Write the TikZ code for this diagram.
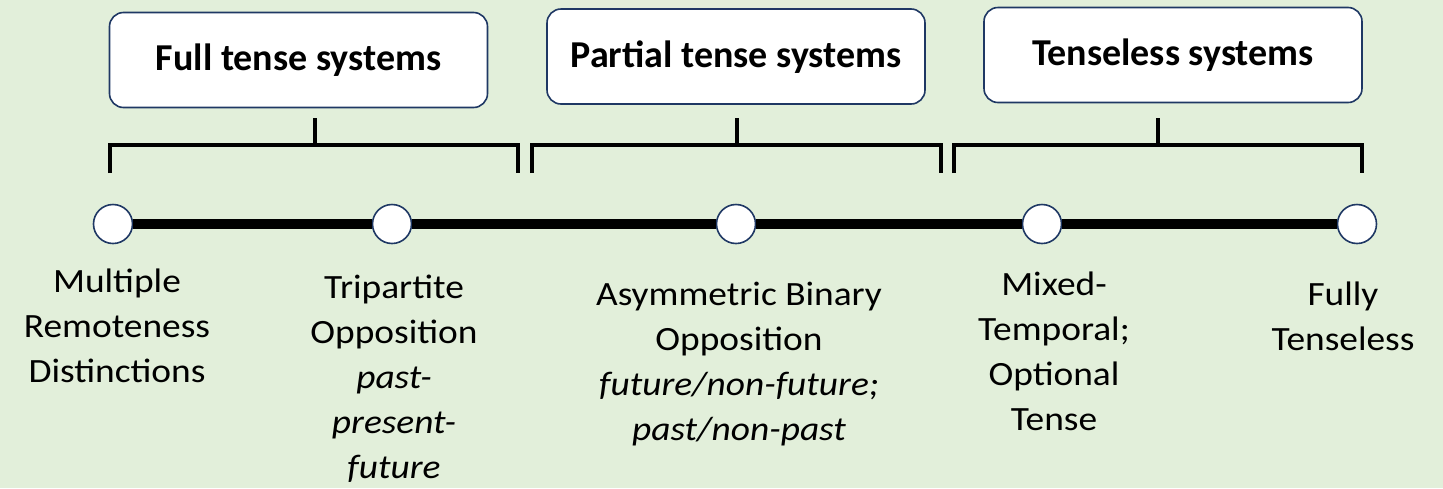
\documentclass[tikz,border=0pt]{standalone}
\usepackage{fontspec}
\setmainfont{Carlito}
\newfontfamily\labelfont{Carlito}[FakeStretch=1.1]
\definecolor{bgcol}{HTML}{E2EFDA}
\definecolor{navy}{HTML}{1F3864}
\begin{document}
\begin{tikzpicture}[x=1pt,y=-1pt,
  titlebox/.style={draw=navy,line width=1.6pt,fill=white,rounded corners=14pt,
    minimum width=378pt,inner xsep=0pt,inner ysep=0pt,text height=58pt,text depth=37pt,
    font=\fontsize{38}{44}\selectfont\bfseries},
  bracketline/.style={line width=4.5pt,draw=black},
  stemline/.style={line width=4.5pt,draw=black},
  timeline/.style={line width=9.5pt,draw=black},
  dot/.style={circle,draw=navy,line width=1.6pt,fill=white,minimum size=39pt,inner sep=0pt},
  lbl/.style={align=center,anchor=north,inner sep=0pt,yshift=31.5pt,
    font=\labelfont\fontsize{34}{45}\selectfont}
]
\useasboundingbox (0,0) rectangle (1443,488);
\fill[bgcol] (0,0) rectangle (1443,488);

% title boxes
\node[titlebox] (b1) at (298.5,60) {Full tense systems};
\node[titlebox] (b2) at (736,56.5) {Partial tense systems};
\node[titlebox] (b3) at (1173,55) {Tenseless systems};

% brackets
\coordinate (s1) at (315,118);  \coordinate (k1) at (315,145);
\coordinate (l1) at (110,173);  \coordinate (r1) at (518,173);
\coordinate (s2) at (737,118);  \coordinate (k2) at (737,145);
\coordinate (l2) at (532,173);  \coordinate (r2) at (941,173);
\coordinate (s3) at (1158,118); \coordinate (k3) at (1158,145);
\coordinate (l3) at (954,173);  \coordinate (r3) at (1362,173);

\draw[stemline] (s1) -- (k1);
\draw[bracketline] (l1) |- (k1) -| (r1);
\draw[stemline] (s2) -- (k2);
\draw[bracketline] (l2) |- (k2) -| (r2);
\draw[stemline] (s3) -- (k3);
\draw[bracketline] (l3) |- (k3) -| (r3);

% timeline
\node[dot] (c1) at (113,224) {};
\node[dot] (c2) at (392,224) {};
\node[dot] (c3) at (736,224) {};
\node[dot] (c4) at (1042,224) {};
\node[dot] (c5) at (1357,224) {};
\draw[timeline] (c1) -- (c2) -- (c3) -- (c4) -- (c5);

% labels (position = baseline of first line)
\node[lbl] (t1) at (117,292) {\strut Multiple\\Remoteness\\Distinctions};
\node[lbl] (t2) at (394,298) {\strut Tripartite\\Opposition\\\itshape past-\\\itshape present-\\\itshape future};
\node[lbl] (t3) at (739,305) {\strut Asymmetric Binary\\Opposition\\\itshape future/non-future;\\\itshape past/non-past};
\node[lbl] (t4) at (1054,295) {\strut Mixed-\\Temporal;\\Optional\\Tense};
\node[lbl] (t5) at (1343,305) {\strut Fully\\Tenseless};
\end{tikzpicture}
\end{document}
